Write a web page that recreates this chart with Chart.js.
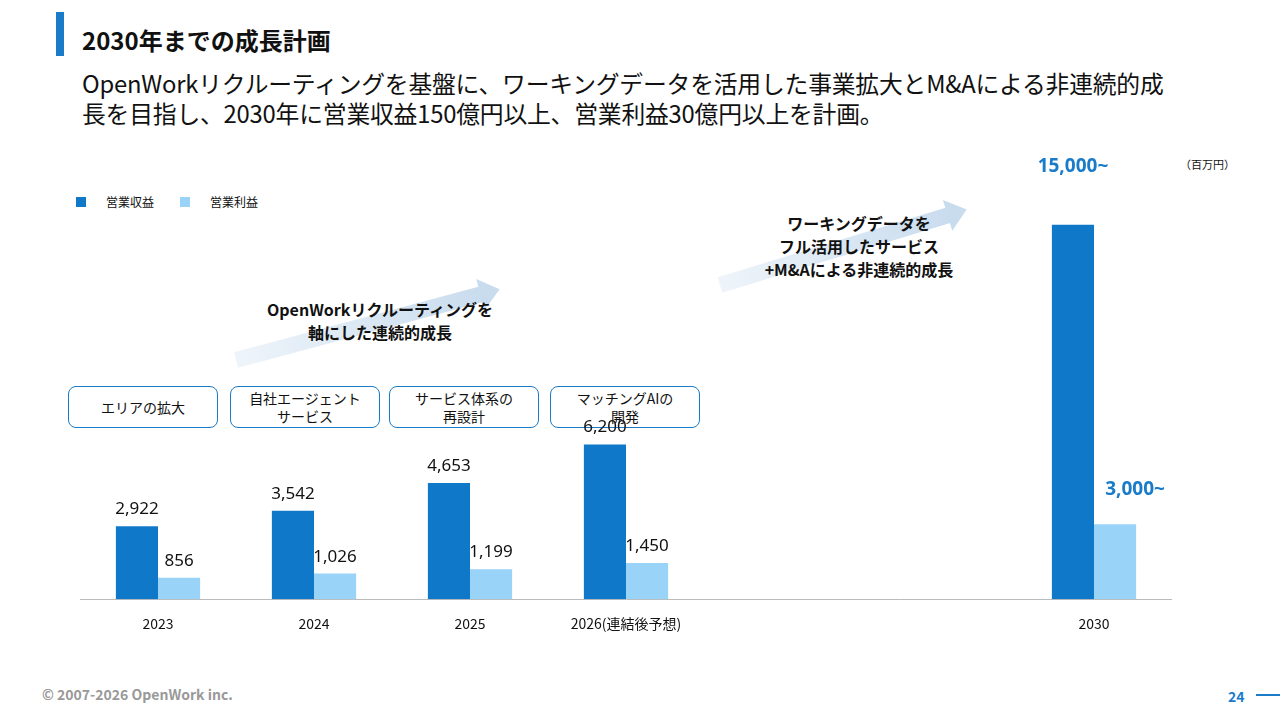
<!DOCTYPE html>
<html><head><meta charset="utf-8">
<script src="https://cdn.jsdelivr.net/npm/chart.js@4"></script>
<style>
body{margin:0;width:1280px;height:720px;position:relative;background:#fff;font-family:"Noto Sans CJK JP","Noto Sans",sans-serif;color:#111;overflow:hidden}
.abs{position:absolute}
.box{position:absolute;top:386px;width:148px;height:40px;border:1.5px solid #1a7cc9;border-radius:8px;display:flex;align-items:center;justify-content:center;text-align:center;font-size:14px;line-height:18px}
.arrow{position:absolute;height:16px;background:linear-gradient(90deg,rgba(200,220,238,0.3),#c9dcee);transform-origin:left center}
.arrow:after{content:"";position:absolute;right:-18px;top:-8px;border-left:20px solid #c9dcee;border-top:16px solid transparent;border-bottom:16px solid transparent}
</style></head><body>
<div class="abs" style="left:56px;top:12px;width:8px;height:44px;background:#1a7cc9"></div>
<div class="abs" style="left:82px;top:22px;font-size:24px;font-weight:bold">2030年までの成長計画</div>
<div class="abs" style="left:82px;top:68px;font-size:23.8px;line-height:30px;letter-spacing:-0.2px">OpenWorkリクルーティングを基盤に、ワーキングデータを活用した事業拡大とM&amp;Aによる非連続的成<br>長を目指し、2030年に営業収益150億円以上、営業利益30億円以上を計画。</div>
<div class="abs" style="left:76px;top:193px;font-size:12px;display:flex;align-items:center"><span style="width:10px;height:10px;background:#0f78c8;display:inline-block;margin-right:20px"></span>営業収益<span style="width:10px;height:10px;background:#99d3f7;display:inline-block;margin-left:26px;margin-right:20px"></span>営業利益</div>
<div class="abs" style="left:1180px;top:156px;font-size:11px">（百万円）</div>
<div class="arrow" style="left:236px;top:352px;width:255px;transform:rotate(-15deg)"></div>
<div class="abs" style="left:250px;top:298px;width:260px;text-align:center;font-size:16px;font-weight:bold;line-height:23px">OpenWorkリクルーティングを<br>軸にした連続的成長</div>
<div class="arrow" style="left:720px;top:277px;width:240px;transform:rotate(-17deg)"></div>
<div class="abs" style="left:724px;top:212px;width:270px;text-align:center;font-size:16px;font-weight:bold;line-height:23px">ワーキングデータを<br>フル活用したサービス<br>+M&amp;Aによる非連続的成長</div>
<div class="box" style="left:68px">エリアの拡大</div>
<div class="box" style="left:230px">自社エージェント<br>サービス</div>
<div class="box" style="left:389px">サービス体系の<br>再設計</div>
<div class="box" style="left:550px">マッチングAIの<br>開発</div>
<div class="abs" style="left:42px;top:684px;font-size:14px;color:#999;font-weight:bold">© 2007-2026 OpenWork inc.</div>
<div class="abs" style="left:1228px;top:686px;font-size:14px;color:#1a7cc9;font-weight:bold">24</div>
<div class="abs" style="left:1256px;top:694px;width:24px;height:2px;background:#1a7cc9"></div>
<div class="abs" style="left:80px;top:150px;width:1092px;height:490px"><canvas id="c"></canvas></div>
<script>
const categories = ['2023', '2024', '2025', '2026(連結後予想)', '', '', '2030'];
const revenue = [2922, 3542, 4653, 6200, null, null, 15000];
const profit = [856, 1026, 1199, 1450, null, null, 3000];
const revenueLabels = ['2,922', '3,542', '4,653', '6,200', '', '', '15,000~'];
const profitLabels = ['856', '1,026', '1,199', '1,450', '', '', '3,000~'];

function fill(base, ctx) {
  const c = ctx.chart;
  if (!c.chartArea || ctx.dataIndex !== 6) return base;
  const m = c.getDatasetMeta(ctx.datasetIndex).data[6];
  if (!m || !isFinite(m.y) || !isFinite(m.base)) return base;
  const g = c.ctx.createLinearGradient(0, m.y, 0, m.y + (m.base - m.y) * 0.45);
  g.addColorStop(0, 'rgba(255,255,255,1)');
  g.addColorStop(1, base);
  return g;
}

const labelPlugin = {
  id: 'labels',
  afterDatasetsDraw(chart) {
    const ctx = chart.ctx;
    [revenueLabels, profitLabels].forEach((labs, d) => {
      chart.getDatasetMeta(d).data.forEach((el, i) => {
        if (!labs[i]) return;
        ctx.save();
        ctx.textAlign = 'center';
        if (i === 6) {
          ctx.fillStyle = '#1a7cc9';
          ctx.font = 'bold 19px "Noto Sans", sans-serif';
          ctx.fillText(labs[i], el.x + (d === 0 ? 0 : 20), d === 0 ? 22 : 345);
        } else {
          ctx.fillStyle = '#111';
          ctx.font = '17px "Noto Sans", sans-serif';
          ctx.fillText(labs[i], el.x, el.y - 12);
        }
        ctx.restore();
      });
    });
  }
};

new Chart(document.getElementById('c'), {
  type: 'bar',
  data: {
    labels: categories,
    datasets: [
      { label: '営業収益', data: revenue, backgroundColor: ctx => fill('#0f78c8', ctx) },
      { label: '営業利益', data: profit, backgroundColor: ctx => fill('#99d3f7', ctx) }
    ]
  },
  options: {
    responsive: true,
    maintainAspectRatio: false,
    animation: false,
    datasets: { bar: { categoryPercentage: 0.54, barPercentage: 1 } },
    plugins: { legend: { display: false }, tooltip: { enabled: false } },
    scales: {
      x: {
        grid: { display: false },
        border: { color: '#bbb' },
        ticks: { color: '#111', font: { size: 14, family: '"Noto Sans CJK JP", sans-serif' }, padding: 8, maxRotation: 0 }
      },
      y: { display: false, min: 0, max: 18000 }
    }
  },
  plugins: [labelPlugin]
});
</script>
</body></html>
